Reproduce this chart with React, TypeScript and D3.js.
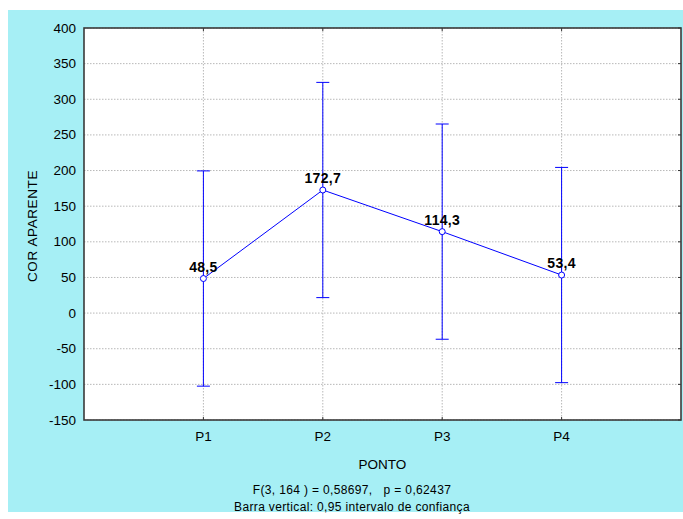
import React from "react";
import * as d3 from "d3";

const categories = ["P1", "P2", "P3", "P4"];
const means = [48.5, 172.7, 114.3, 53.4];
const lower = [-102.5, 21.7, -36.7, -97.6];
const upper = [199.5, 323.7, 265.3, 204.4];
const meanLabels = ["48,5", "172,7", "114,3", "53,4"];
const yTicks = [400, 350, 300, 250, 200, 150, 100, 50, 0, -50, -100, -150];
const yTitle = "COR APARENTE";
const xTitle = "PONTO";
const footer1 = "F(3, 164 ) = 0,58697,   p = 0,62437";
const footer2 = "Barra vertical: 0,95 intervalo de confiança";

const W = 683;
const H = 519;
const left = 84;
const right = 681;
const top = 28;
const bottom = 420;
const FONT = "'Liberation Sans', Arial, Helvetica, sans-serif";
const BLUE = "#0000ff";

export default function App() {
  const x = d3.scaleLinear().domain([0, categories.length + 1]).range([left, right]);
  const y = d3.scaleLinear().domain([-150, 400]).range([bottom, top]);
  const line = d3
    .line<number>()
    .x((_, i) => x(i + 1))
    .y((d) => y(d));
  const cap = 6.5;
  return (
    <svg
      width={W}
      height={H}
      style={{ position: "absolute", left: 0, top: 0, background: "#fff" }}
      fontFamily={FONT}
    >
      <rect x={8} y={10} width={W - 8} height={502} fill="#a6eff5" />
      <rect x={left} y={top} width={right - left} height={bottom - top} fill="#fff" />
      {/* grid */}
      {yTicks.map((t) => (
        <line
          key={"gy" + t}
          x1={left}
          x2={right}
          y1={y(t)}
          y2={y(t)}
          stroke="#b8b8b8"
          strokeWidth={1}
          strokeDasharray="1.5,1.5"
        />
      ))}
      {categories.map((c, i) => (
        <line
          key={"gx" + c}
          x1={x(i + 1)}
          x2={x(i + 1)}
          y1={top}
          y2={bottom}
          stroke="#b8b8b8"
          strokeWidth={1}
          strokeDasharray="1.5,1.5"
        />
      ))}
      {/* ticks */}
      {yTicks.map((t) => (
        <line key={"ty" + t} x1={right - 3} x2={right} y1={y(t)} y2={y(t)} stroke="#333" strokeWidth={1} />
      ))}
      {categories.map((c, i) => (
        <g key={"tx" + c}>
          <line x1={x(i + 1)} x2={x(i + 1)} y1={bottom - 3} y2={bottom} stroke="#333" strokeWidth={1} />
          <line x1={x(i + 1)} x2={x(i + 1)} y1={top} y2={top + 3} stroke="#333" strokeWidth={1} />
        </g>
      ))}
      {/* border */}
      <rect
        x={left}
        y={top}
        width={right - left}
        height={bottom - top}
        fill="none"
        stroke="#3a3a3a"
        strokeWidth={1.6}
      />
      {/* y labels */}
      {yTicks.map((t) => (
        <text key={"ly" + t} x={76} y={y(t) + 4.5} textAnchor="end" fontSize={13.5} fill="#000">
          {String(t)}
        </text>
      ))}
      {/* x labels */}
      {categories.map((c, i) => (
        <text key={"lx" + c} x={x(i + 1)} y={441} textAnchor="middle" fontSize={13.5} fill="#000">
          {c}
        </text>
      ))}
      <text
        transform={`translate(37, ${(top + bottom) / 2 + 2}) rotate(-90)`}
        textAnchor="middle"
        fontSize={13.5}
        letterSpacing={0.6}
        fill="#000"
      >
        {yTitle}
      </text>
      <text x={(left + right) / 2} y={469} textAnchor="middle" fontSize={13.5} fill="#000">
        {xTitle}
      </text>
      <text
        x={352}
        y={494}
        textAnchor="middle"
        fontSize={12}
        letterSpacing={0.35}
        fill="#000"
        style={{ whiteSpace: "pre" }}
      >
        {footer1}
      </text>
      <text x={352} y={511} textAnchor="middle" fontSize={12} letterSpacing={0.35} fill="#000">
        {footer2}
      </text>
      {/* error bars */}
      {categories.map((c, i) => (
        <g key={"eb" + c} stroke={BLUE} strokeWidth={1}>
          <line x1={x(i + 1)} x2={x(i + 1)} y1={y(lower[i])} y2={y(upper[i])} />
          <line x1={x(i + 1) - cap} x2={x(i + 1) + cap} y1={y(lower[i])} y2={y(lower[i])} />
          <line x1={x(i + 1) - cap} x2={x(i + 1) + cap} y1={y(upper[i])} y2={y(upper[i])} />
        </g>
      ))}
      <path d={line(means) || ""} fill="none" stroke={BLUE} strokeWidth={1} />
      {means.map((m, i) => (
        <circle key={"pt" + i} cx={x(i + 1)} cy={y(m)} r={3} fill="#fff" stroke={BLUE} strokeWidth={1} />
      ))}
      {means.map((m, i) => (
        <text
          key={"ml" + i}
          x={x(i + 1)}
          y={y(m) - 7}
          textAnchor="middle"
          fontSize={14}
          fontWeight="bold"
          letterSpacing={0.3}
          fill="#000"
        >
          {meanLabels[i]}
        </text>
      ))}
    </svg>
  );
}
